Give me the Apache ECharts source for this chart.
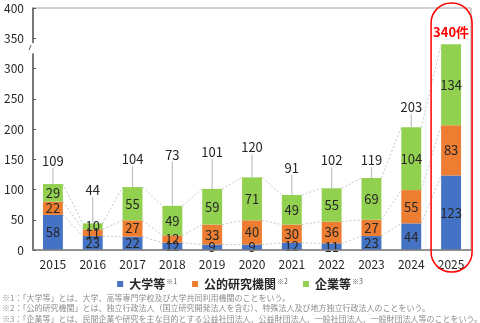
<!DOCTYPE html>
<html>
<head>
<meta charset="utf-8">
<script src="https://cdn.jsdelivr.net/npm/echarts@6/dist/echarts.min.js"></script>
<style>
  html, body { margin: 0; padding: 0; background: #fff; }
  #chart { width: 480px; height: 323px; }
</style>
</head>
<body>
<div id="chart"></div>
<script>
// Yearly counts by organisation type
const years = ['2015', '2016', '2017', '2018', '2019', '2020', '2021', '2022', '2023', '2024', '2025'];
const univ = [58, 23, 22, 12, 9, 9, 12, 11, 23, 44, 123];
const pubInst = [22, 11, 27, 12, 33, 40, 30, 36, 27, 55, 83];
const corp = [29, 10, 55, 49, 59, 71, 49, 55, 69, 104, 134];
const totals = [109, 44, 104, 73, 101, 120, 91, 102, 119, 203, 340];
const seriesNames = ['大学等', '公的研究機関', '企業等'];
const noteMarks = ['※1', '※2', '※3'];
const yMin = 0, yMax = 400, yStep = 50;

const notes = [
  '※1：「大学等」とは、大学、高等専門学校及び大学共同利用機関のことをいう。',
  '※2：「公的研究機関」とは、独立行政法人（国立研究開発法人を含む）、特殊法人及び地方独立行政法人のことをいう。',
  '※3：「企業等」とは、民間企業や研究を主な目的とする公益社団法人、公益財団法人、一般社団法人、一般財団法人等のことをいう。'
];

// Pixel lift of each total label above its bar top
const totalLift = [23, 33, 28, 51, 37, 30, 27, 28, 18, 20, 12];

const COLORS = ['#4472C4', '#ED7D31', '#92D050'];
const FONT = '"Noto Sans CJK JP", "Noto Sans", sans-serif';
const BAR_RATIO = 0.5;

const chart = echarts.init(document.getElementById('chart'), null, { renderer: 'canvas' });

const stacks = [univ, pubInst, corp];
const cumulative = stacks.map((_, lvl) =>
  years.map((_, i) => stacks.slice(0, lvl + 1).reduce((s, arr) => s + arr[i], 0))
);

function barSeries(name, values, color) {
  return {
    name: name,
    type: 'bar',
    stack: 'all',
    barWidth: (BAR_RATIO * 100) + '%',
    z: 3,
    itemStyle: { color: color },
    label: {
      show: true,
      position: 'inside',
      color: '#262626',
      fontSize: 13,
      fontFamily: FONT
    },
    data: values
  };
}

// Dotted series lines joining the tops of matching segments
const connectorSeries = {
  type: 'custom',
  z: 1,
  silent: true,
  data: years.map((_, i) => [i, totals[i]]),
  renderItem: function (params, api) {
    const i = params.dataIndex;
    if (i >= years.length - 1) return null;
    const half = api.size([1, 0])[0] * BAR_RATIO / 2;
    const children = cumulative.map(function (cum) {
      const a = api.coord([i, cum[i]]);
      const b = api.coord([i + 1, cum[i + 1]]);
      return {
        type: 'line',
        shape: { x1: a[0] + half, y1: a[1], x2: b[0] - half, y2: b[1] },
        style: { stroke: '#c8c8c8', lineWidth: 1, lineDash: [2, 2] }
      };
    });
    return { type: 'group', children: children };
  }
};

// Total labels with leader lines
const totalSeries = {
  type: 'custom',
  z: 5,
  silent: true,
  data: years.map((_, i) => [i, totals[i]]),
  renderItem: function (params, api) {
    const i = params.dataIndex;
    const p = api.coord([i, api.value(1)]);
    const ly = p[1] - totalLift[i];
    const last = i === years.length - 1;
    const children = [];
    if (!last) {
      children.push({
        type: 'line',
        shape: { x1: p[0], y1: ly + 7, x2: p[0], y2: p[1] },
        style: { stroke: '#bfbfbf', lineWidth: 1.2 }
      });
    }
    children.push({
      type: 'text',
      x: p[0],
      y: ly,
      style: {
        text: last ? api.value(1) + '件' : String(api.value(1)),
        fill: last ? '#FF0000' : '#262626',
        font: (last ? 'bold ' : '') + '13px ' + FONT,
        align: 'center',
        verticalAlign: 'middle'
      }
    });
    return { type: 'group', children: children };
  }
};

const option = {
  animation: false,
  backgroundColor: '#fff',
  grid: {
    left: 33, right: 9, top: 8, bottom: 73,
    show: true,
    borderColor: '#a6a6a6',
    borderWidth: 1
  },
  legend: {
    top: 273,
    left: 'center',
    itemWidth: 6,
    itemHeight: 6,
    itemGap: 15,
    icon: 'rect',
    data: seriesNames,
    formatter: function (name) {
      return '{n|' + name + '}{s|' + noteMarks[seriesNames.indexOf(name)] + '}';
    },
    textStyle: {
      rich: {
        n: { fontSize: 12, fontWeight: 'bold', color: '#262626', fontFamily: FONT, padding: [0, 0, 0, 1] },
        s: { fontSize: 7, color: '#595959', fontFamily: FONT, verticalAlign: 'top', padding: [0, 0, 5, 1] }
      }
    }
  },
  xAxis: {
    type: 'category',
    data: years,
    axisLine: { lineStyle: { color: '#7f7f7f', width: 1.5 } },
    axisTick: { show: false },
    axisLabel: { color: '#262626', fontSize: 12, fontFamily: FONT, margin: 8 },
    z: 10
  },
  yAxis: {
    type: 'value',
    min: yMin,
    max: yMax,
    interval: yStep,
    axisLine: { show: true, lineStyle: { color: '#595959', width: 1.5 } },
    axisTick: { show: true, inside: true, length: 3, lineStyle: { color: '#595959' } },
    axisLabel: { color: '#262626', fontSize: 12, fontFamily: FONT, margin: 9 },
    splitLine: { show: false },
    z: 10
  },
  series: [
    connectorSeries,
    barSeries(seriesNames[0], univ, COLORS[0]),
    barSeries(seriesNames[1], pubInst, COLORS[1]),
    barSeries(seriesNames[2], corp, COLORS[2]),
    totalSeries
  ]
};

chart.setOption(option);

// Decorations: axis break mark, highlight around the latest year, notes
function decorate() {
  const gridLeft = 33;
  const breakTop = chart.convertToPixel({ yAxisIndex: 0 }, 342);
  const breakBottom = chart.convertToPixel({ yAxisIndex: 0 }, 325);
  const lastX = chart.convertToPixel({ xAxisIndex: 0 }, years[years.length - 1]);

  const graphics = [
    {
      type: 'rect',
      z: 100,
      shape: { x: gridLeft - 3, y: breakTop, width: 6, height: breakBottom - breakTop },
      style: { fill: '#fff' }
    },
    {
      type: 'line',
      z: 101,
      shape: { x1: gridLeft - 4, y1: breakTop + 7, x2: gridLeft - 2, y2: breakTop + 2 },
      style: { stroke: '#595959', lineWidth: 1 }
    },
    {
      type: 'rect',
      z: 100,
      shape: { x: lastX - 20, y: 3, width: 41, height: 269, r: 20 },
      style: { fill: 'none', stroke: '#FF0000', lineWidth: 1.5 }
    }
  ];
  notes.forEach(function (t, k) {
    graphics.push({
      type: 'text',
      z: 100,
      x: 2,
      y: 297.5 + k * 10.5,
      style: {
        text: t,
        fill: '#8c8c8c',
        font: '8px ' + FONT,
        verticalAlign: 'middle'
      }
    });
  });
  chart.setOption({ graphic: graphics });
}
decorate();
</script>
</body>
</html>
